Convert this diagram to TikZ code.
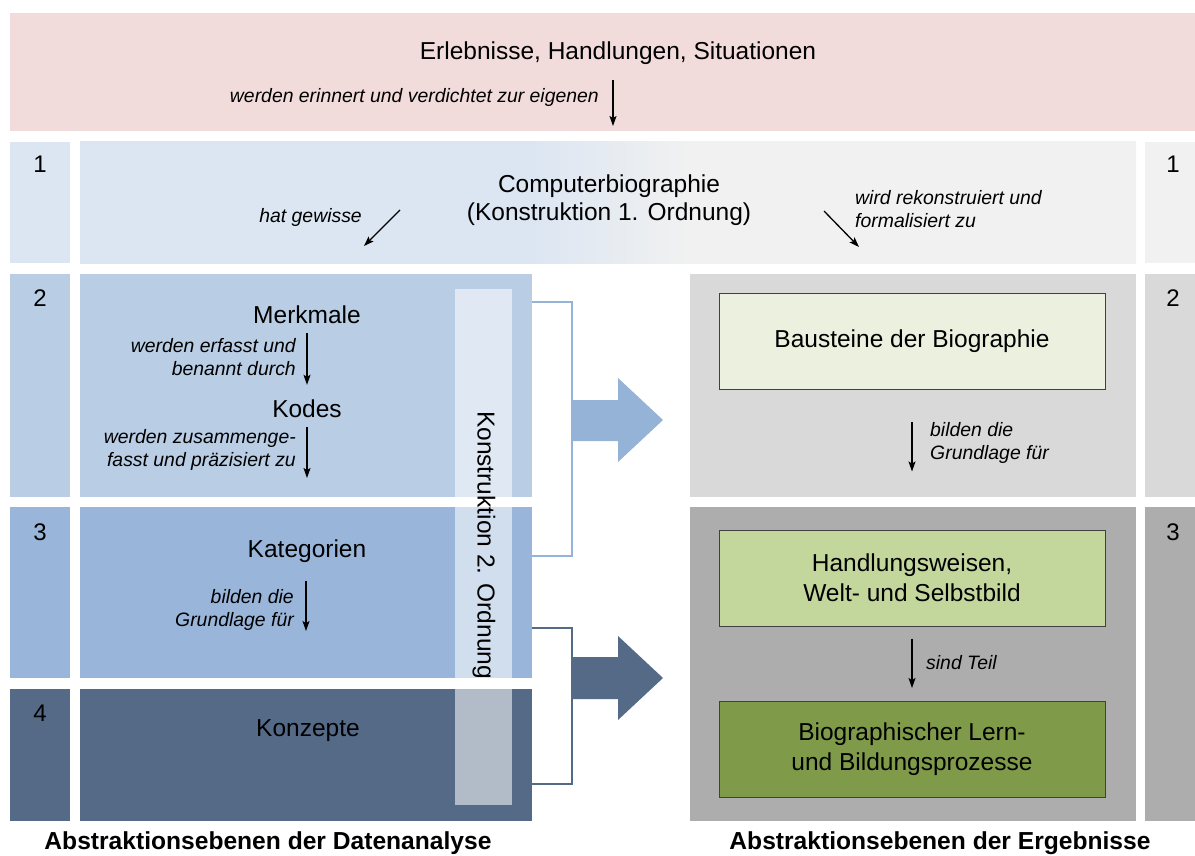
\documentclass[tikz,border=0pt]{standalone}
\usepackage{fontspec}
\setmainfont{Liberation Sans}
\usetikzlibrary{arrows.meta}
\definecolor{pinkbg}{HTML}{F2DCDB}
\definecolor{blueA}{HTML}{DCE6F2}
\definecolor{greyA}{HTML}{F1F1F1}
\definecolor{blueB}{HTML}{B9CDE5}
\definecolor{greyB}{HTML}{D9D9D9}
\definecolor{blueC}{HTML}{99B6DA}
\definecolor{greyC}{HTML}{ADADAD}
\definecolor{blueD}{HTML}{556A87}
\definecolor{arrowL}{HTML}{95B3D7}
\definecolor{arrowD}{HTML}{546A87}
\definecolor{boxA}{HTML}{EBF1DE}
\definecolor{boxB}{HTML}{C3D69B}
\definecolor{boxC}{HTML}{7F9A48}
\pgfdeclarehorizontalshading{rowone}{100bp}{color(0bp)=(blueA); color(46.4bp)=(blueA); color(53.9bp)=(greyA); color(100bp)=(greyA)}
\begin{document}
\begin{tikzpicture}[x=1pt,y=-1pt,
  maintxt/.style={font=\fontsize{24.5}{28}\selectfont, align=center, inner sep=0pt},
  numtxt/.style={font=\fontsize{24}{28}\selectfont, inner sep=0pt},
  lab/.style={font=\fontsize{19.4}{23}\selectfont\itshape, inner sep=0pt},
  arr/.style={-{Stealth[length=10pt,width=7pt,inset=2pt]}, line width=1.3pt},
  resbox/.style={draw=black!75, line width=1pt, minimum width=386pt, minimum height=96pt, inner sep=0pt, align=center, font=\fontsize{24.5}{30}\selectfont},
  bottxt/.style={font=\fontsize{24.6}{28}\selectfont\bfseries, inner sep=0pt},
  bracketL/.style={draw=arrowL, line width=2pt},
  bracketD/.style={draw=arrowD, line width=2pt},
]
\useasboundingbox (0,0) rectangle (1195,856);
\fill[white] (0,0) rectangle (1195,856);
% top banner
\fill[pinkbg] (10,13) rectangle (1195,131);
% row 1
\fill[blueA] (10,142) rectangle (70,263);
\shade[shading=rowone] (80,142) rectangle (1136,263);
\fill[greyA] (1145,142) rectangle (1195,263);
% row 2
\fill[blueB] (10,274) rectangle (70,497);
\fill[blueB] (80,274) rectangle (532,497);
\fill[greyB] (690,274) rectangle (1136,497);
\fill[greyB] (1145,274) rectangle (1195,497);
% row 3
\fill[blueC] (10,507) rectangle (70,678);
\fill[blueC] (80,507) rectangle (532,678);
\fill[greyC] (690,507) rectangle (1136,821);
\fill[greyC] (1145,507) rectangle (1195,821);
% row 4
\fill[blueD] (10,689) rectangle (70,821);
\fill[blueD] (80,689) rectangle (532,821);
% translucent bar
\fill[white, opacity=0.55] (455,289) rectangle (512,805);

% texts
\node[maintxt] (erleb) at (618,53) {Erlebnisse, Handlungen, Situationen};
\node[lab, anchor=east] (lab0) at (599,97) {werden erinnert und verdichtet zur eigenen};
\coordinate (a0s) at (613,80);
\coordinate (a0e) at (613,126);
\draw[arr] (a0s) -- (a0e);

\node[numtxt] (n1l) at (40,164) {1};
\node[numtxt] (n1r) at (1173,164) {1};
\node[maintxt] (comp) at (609,200) {Computerbiographie\\(Konstruktion 1. Ordnung)};
\node[lab, anchor=east] (lab1) at (362,217) {hat gewisse};
\coordinate (a1s) at (400,210);
\coordinate (a1e) at (364,246);
\draw[arr] (a1s) -- (a1e);
\node[lab, anchor=west, align=left] (lab2) at (855,209) {wird rekonstruiert und\\formalisiert zu};
\coordinate (a2s) at (824,211);
\coordinate (a2e) at (859,247);
\draw[arr] (a2s) -- (a2e);

\node[numtxt] (n2l) at (40,298) {2};
\node[numtxt] (n2r) at (1173,298) {2};
\node[maintxt] (merk) at (307,315) {Merkmale};
\node[lab, anchor=east, align=right] (lab3) at (296,357) {werden erfasst und\\benannt durch};
\node[maintxt] (kodes) at (307,409) {Kodes};
\draw[arr, shorten <=9pt, shorten >=15pt] (merk) -- (kodes);
\node[lab, anchor=east, align=right] (lab4) at (296,450) {werden zusammenge-\\fasst und präzisiert zu};
\coordinate (a4e) at (307,478);
\draw[arr, shorten <=9pt] (kodes) -- (a4e);

\node[numtxt] (n3l) at (40,532) {3};
\node[numtxt] (n3r) at (1173,532) {3};
\node[maintxt] (kat) at (307,551) {Kategorien};
\node[lab, anchor=east, align=right] (lab5) at (294,610) {bilden die\\Grundlage für};
\coordinate (a5s) at (306,581);
\coordinate (a5e) at (306,631);
\draw[arr] (a5s) -- (a5e);

\node[numtxt] (n4l) at (40,713) {4};
\node[maintxt] (konz) at (308,731) {Konzepte};

\node[maintxt, rotate=-90] (kon2) at (484,545) {Konstruktion 2. Ordnung};

% brackets
\coordinate (bu1) at (532,302);
\coordinate (bu2) at (532,556);
\coordinate (bl1) at (532,628);
\coordinate (bl2) at (532,784);
\draw[bracketL] (bu1) -| (572,556) -- (bu2);
\draw[bracketD] (bl1) -| (572,784) -- (bl2);
% block arrows
\fill[arrowL] (572,400) -- (618,400) -- (618,378) -- (663,420) -- (618,462) -- (618,441) -- (572,441) -- cycle;
\fill[arrowD] (572,657) -- (618,657) -- (618,636) -- (663,678) -- (618,720) -- (618,699) -- (572,699) -- cycle;

% right boxes
\node[resbox, fill=boxA] (baust) at (912,341.5) {Bausteine der Biographie};
\node[resbox, fill=boxB] (handl) at (912,578) {Handlungsweisen,\\Welt- und Selbstbild};
\node[resbox, fill=boxC] (bio) at (912,749.5) {Biographischer Lern-\\und Bildungsprozesse};
\draw[arr, shorten <=32pt, shorten >=58pt] (baust) -- (handl);
\node[lab, anchor=west, align=left] (lab6) at (930,443) {bilden die\\Grundlage für};
\draw[arr, shorten <=12pt, shorten >=13pt] (handl) -- (bio);
\node[lab, anchor=west] (lab7) at (926,663) {sind Teil};

% bottom labels
\node[bottxt] (bl) at (268,843) {Abstraktionsebenen der Datenanalyse};
\node[bottxt] (br) at (940,843) {Abstraktionsebenen der Ergebnisse};
\end{tikzpicture}
\end{document}
